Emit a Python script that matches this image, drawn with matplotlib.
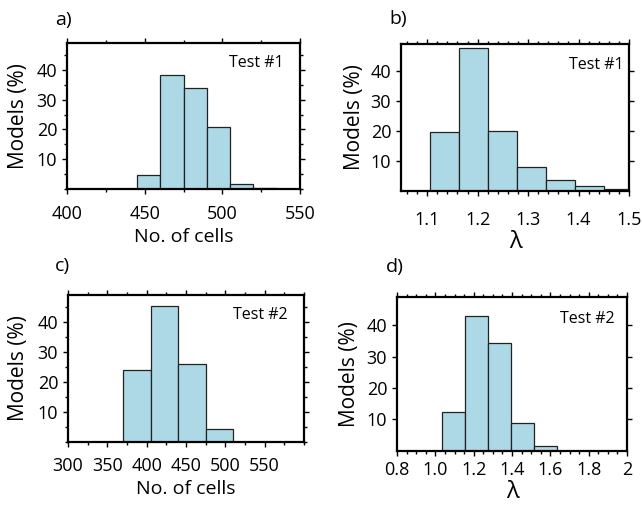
import numpy as np
import matplotlib.pyplot as plt
from matplotlib.ticker import MultipleLocator

plt.rcParams['font.family'] = ['Open Sans', 'DejaVu Sans']

# Test #1 - number of cells
cells1_edges = [445, 460, 475, 490, 505, 520, 535]
cells1_pct = [4.7, 38.2, 33.8, 20.8, 1.6, 0.5]

# Test #1 - lambda
lam1_edges = [1.105, 1.1625, 1.22, 1.2775, 1.335, 1.3925, 1.45, 1.5075]
lam1_pct = [19.5, 47.7, 19.9, 8.0, 3.5, 1.4, 0.7]

# Test #2 - number of cells
cells2_edges = [370, 405, 440, 475, 510]
cells2_pct = [24.0, 45.3, 26.1, 4.4]

# Test #2 - lambda
lam2_edges = [1.035, 1.155, 1.275, 1.395, 1.515, 1.635]
lam2_pct = [12.5, 42.9, 34.5, 8.7, 1.5]

cells1_ticks = ['400', '450', '500', '550']
lam1_ticks = ['1.1', '1.2', '1.3', '1.4', '1.5']
cells2_ticks = ['300', '350', '400', '450', '500', '550']
lam2_ticks = ['0.8', '1.0', '1.2', '1.4', '1.6', '1.8', '2']

BAR_COLOR = '#add8e6'

fig = plt.figure(figsize=(6.42, 5.09), dpi=100)

panels = [
    dict(rect=[0.1044, 0.6287, 0.3629, 0.2868], edges=cells1_edges, pct=cells1_pct,
         xlim=(400, 550), xticks=[400, 450, 500, 550], labels=cells1_ticks,
         xminor=25, yminor=5, xlabel='No. of cells', xsize=14, xpad=8.0, xlab_y=-0.329,
         ylab_x=-0.21, test='Test #1', tx=0.93, letter='a)', lpos=(0.086, 0.961)),
    dict(rect=[0.6246, 0.6254, 0.3551, 0.2876], edges=lam1_edges, pct=lam1_pct,
         xlim=(1.048, 1.5), xticks=[1.1, 1.2, 1.3, 1.4, 1.5], labels=lam1_ticks,
         xminor=0.02, yminor=None, xlabel='λ', xsize=17, xpad=11.0, xlab_y=-0.348,
         ylab_x=-0.202, test='Test #1', tx=0.975, letter='b)', lpos=(0.606, 0.963)),
    dict(rect=[0.1059, 0.1310, 0.3676, 0.2900], edges=cells2_edges, pct=cells2_pct,
         xlim=(300, 600), xticks=[300, 350, 400, 450, 500, 550], labels=cells2_ticks,
         xminor=25, yminor=5, xlabel='No. of cells', xsize=14, xpad=6.8, xlab_y=-0.318,
         ylab_x=-0.21, test='Test #2', tx=0.932, letter='c)', lpos=(0.086, 0.477)),
    dict(rect=[0.6184, 0.1145, 0.3583, 0.3014], edges=lam2_edges, pct=lam2_pct,
         xlim=(0.8, 2.0), xticks=[0.8, 1.0, 1.2, 1.4, 1.6, 1.8, 2.0], labels=lam2_ticks,
         xminor=0.05, yminor=None, xlabel='λ', xsize=17, xpad=4.0, xlab_y=-0.267,
         ylab_x=-0.2065, test='Test #2', tx=0.948, letter='d)', lpos=(0.601, 0.476)),
]

for p in panels:
    ax = fig.add_axes(p['rect'])
    edges = np.array(p['edges'])
    ax.bar(edges[:-1], p['pct'], width=np.diff(edges), align='edge',
           color=BAR_COLOR, edgecolor='#222222', linewidth=0.9)
    ax.set_xlim(*p['xlim'])
    ax.set_ylim(0, 49)
    ax.set_xticks(p['xticks'])
    ax.set_xticklabels(p['labels'])
    ax.xaxis.set_minor_locator(MultipleLocator(p['xminor']))
    ax.set_yticks([10, 20, 30, 40])
    if p['yminor']:
        ax.yaxis.set_minor_locator(MultipleLocator(p['yminor']))
    ax.tick_params(which='both', direction='out', top=True, right=True,
                   labelsize=13, width=1.0, colors='black')
    ax.tick_params(which='major', length=3.6)
    ax.tick_params(which='minor', length=2.0)
    ax.tick_params(axis='x', which='major', pad=p['xpad'])
    ax.tick_params(axis='y', which='major', pad=3.5)
    for s in ax.spines.values():
        s.set_linewidth(1.6)

    ax.set_xlabel(p['xlabel'], fontsize=p['xsize'])
    ax.xaxis.label.set_verticalalignment('center')
    ax.xaxis.set_label_coords(0.5, p['xlab_y'])
    ax.set_ylabel('Models (%)', fontsize=15)
    ax.yaxis.label.set_verticalalignment('center')
    ax.yaxis.set_label_coords(p['ylab_x'], 0.5)

    ax.text(p['tx'], 0.86, p['test'], transform=ax.transAxes,
            ha='right', va='center', fontsize=11.5)
    fig.text(p['lpos'][0], p['lpos'][1], p['letter'], ha='left', va='center', fontsize=14)

fig.savefig('out.png', dpi=100)
